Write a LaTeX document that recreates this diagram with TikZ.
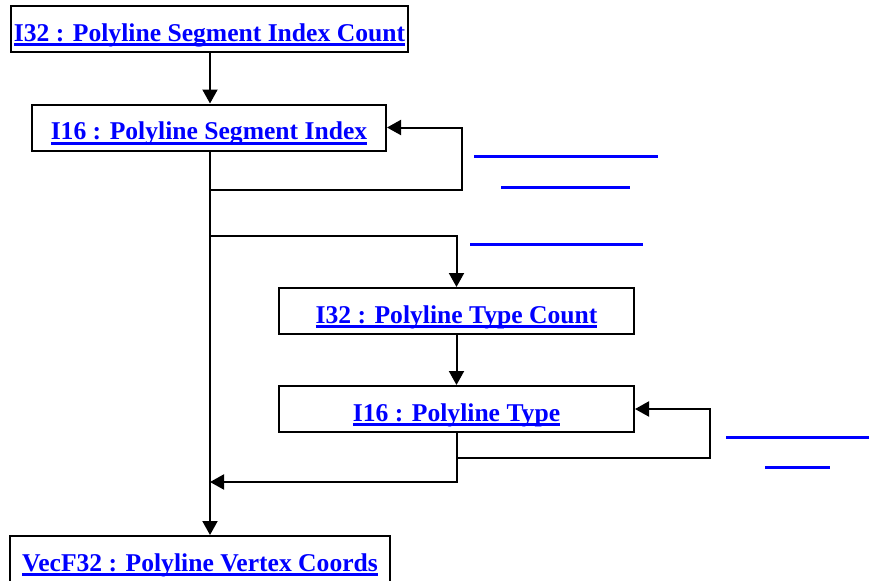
\documentclass[tikz,border=0pt]{standalone}
\usepackage{fontspec}
\setmainfont{Liberation Serif}
\usepackage{tikz}
\usetikzlibrary{arrows.meta,positioning}

\newsavebox{\lnkbox}
\newcommand{\lnk}[1]{\sbox{\lnkbox}{\color{blue}#1}%
  \textcolor{blue}{\rlap{\rule[-2.5pt]{\wd\lnkbox}{1.4pt}}}\usebox{\lnkbox}}

\begin{document}
\begin{tikzpicture}[
    x=0.5pt, y=-0.5pt,
    every node/.style={font=\fontsize{12.8}{15}\selectfont\bfseries},
    box/.style={draw, line width=1pt, rectangle, minimum height=23pt, inner sep=0pt,
                text height=12.5pt, text depth=0.5pt, align=center},
    arr/.style={-{Triangle[length=7pt,width=7.5pt]}, line width=1pt},
    link/.style={blue, line width=1.5pt}
]
\useasboundingbox (0,0) rectangle (869,580);

% Boxes
\node[box, minimum width=198.5pt] (icnt) at (209.5, 29)    {\lnk{I32 : Polyline Segment Index Count}};
\node[box, minimum width=177pt]   (idx)  at (209, 127.5)   {\lnk{I16 : Polyline Segment Index}};
\node[box, minimum width=177.5pt] (tcnt) at (456.5, 311)   {\lnk{I32 : Polyline Type Count}};
\node[box, minimum width=177.5pt] (typ)  at (456.5, 409)   {\lnk{I16 : Polyline Type}};
\node[box, minimum width=190pt]   (vec)  at (200, 559)     {\lnk{VecF32 : Polyline Vertex Coords}};

% Bend points
\coordinate (top)   at (210, 52);
\coordinate (loopA) at (462, 190);
\coordinate (brA)   at (210, 236);
\coordinate (loopB) at (710, 458);
\coordinate (retB)  at (210, 482);

% Arrows
\draw[arr] (top) -- (top |- idx.north);
\draw[arr] (top |- idx.south) |- (loopA) |- (idx.east);
\draw[arr] (top |- idx.south) -- (top |- vec.north);
\draw[arr] (brA) -| (tcnt.north);
\draw[arr] (tcnt) -- (typ);
\draw[arr] (typ.south) |- (loopB) |- (typ.east);
\draw[arr] (typ.south) |- (retB);

% Empty links
\draw[link] (474, 156) -- (658, 156);
\draw[link] (501, 187) -- (630, 187);
\draw[link] (470, 244) -- (643, 244);
\draw[link] (726, 437) -- (869, 437);
\draw[link] (765, 467) -- (830, 467);

\end{tikzpicture}
\end{document}
